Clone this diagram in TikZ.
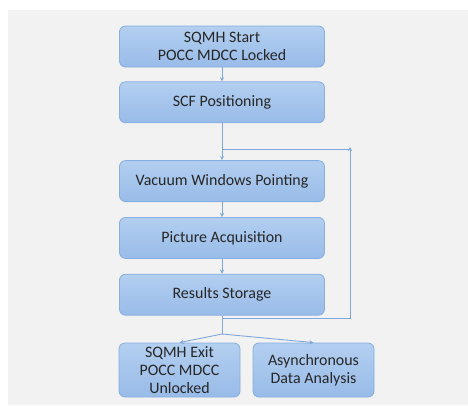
\documentclass[tikz,border=0pt]{standalone}
\usepackage{fontspec}
\setmainfont{Carlito}
\usepackage{tikz}
\usetikzlibrary{arrows, positioning}
\definecolor{boxtop}{HTML}{B3CFF0}
\definecolor{boxbot}{HTML}{98BBE8}
\definecolor{boxline}{HTML}{86AEE0}
\definecolor{wire}{HTML}{7FA9DD}
\definecolor{panel}{HTML}{F2F2F2}

\begin{document}
\begin{tikzpicture} [
        x = 1bp, y = -1bp,
        flowbox/.style = {rectangle, rounded corners=6bp, draw=boxline, line width=0.8bp,
                          top color=boxtop, bottom color=boxbot,
                          minimum width=205bp, minimum height=41bp, inner sep=0pt,
                          align=center, font=\fontsize{16}{18.5}\selectfont, text=black!85},
        smallbox/.style = {flowbox, minimum width=121bp, minimum height=54bp},
        link/.style = {draw=wire, line width=0.9bp, -stealth},
        wireline/.style = {draw=wire, line width=0.9bp}
    ]

    % page and grey panel
    \useasboundingbox (0,0) rectangle (468,405);
    \fill[white] (0,0) rectangle (468,405);
    \fill[panel] (8,10) rectangle (468,405);

    \node[flowbox] (start) at (222,46.5) {SQMH Start\\POCC MDCC Locked};
    \node[flowbox, below = 14bp of start] (scf)   {SCF Positioning};
    \node[flowbox, below = 37bp of scf]   (vwp)   {Vacuum Windows Pointing};
    \node[flowbox, below = 15bp of vwp]   (pic)   {Picture Acquisition};
    \node[flowbox, below = 15bp of pic]   (store) {Results Storage};

    \node[smallbox] (exit)  at (179.5,370) {SQMH Exit\\POCC MDCC\\Unlocked};
    \node[smallbox] (async) at (313.5,370) {Asynchronous\\Data Analysis};

    \coordinate (loop)  at (350,149);
    \coordinate (ret)   at (350,318);
    \coordinate (split) at (222,334);

    \path[link] (start) -- (scf);
    \path[link] (scf) -- (vwp);
    \path[link] (vwp) -- (pic);
    \path[link] (pic) -- (store);

    % loop back
    \path[link] (store.south |- ret) -- (ret) -- ([yshift=2bp]loop);
    \path[wireline] (loop) -- (scf.south |- loop);

    % end of the sequence
    \path[wireline] (store) -- (split);
    \path[link] (split) -- (exit.north);
    \path[link] (split) -- (async.north);

\end{tikzpicture}
\end{document}
